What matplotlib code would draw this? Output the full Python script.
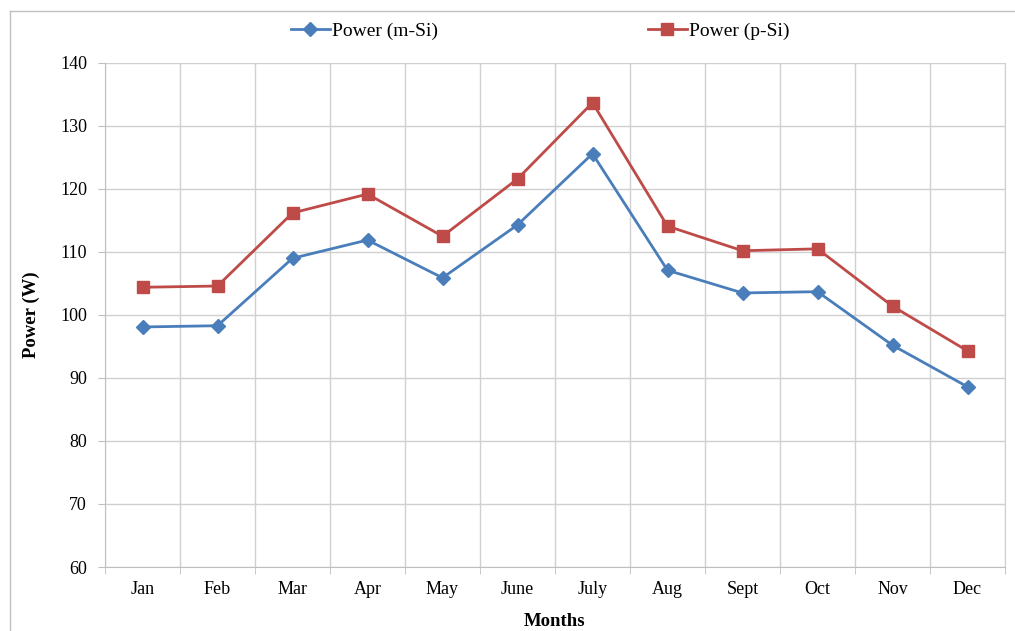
import matplotlib
matplotlib.use("Agg")
import matplotlib.pyplot as plt
from matplotlib.lines import Line2D
import numpy as np

months = ["Jan", "Feb", "Mar", "Apr", "May", "June", "July", "Aug", "Sept", "Oct", "Nov", "Dec"]
power_msi = [98.1, 98.3, 109.0, 111.9, 105.9, 114.3, 125.6, 107.1, 103.5, 103.7, 95.2, 88.6]
power_psi = [104.4, 104.6, 116.2, 119.2, 112.5, 121.6, 133.7, 114.1, 110.2, 110.5, 101.4, 94.3]

plt.rcParams['font.family'] = ['Liberation Serif', 'DejaVu Serif']

W, H = 1015, 631
fig = plt.figure(figsize=(W/100, H/100), dpi=100)
ax = fig.add_axes([105/W, (H-567)/H, 900/W, 504/H])

x = np.arange(len(months))
blue = '#4A7EBB'
red = '#BE4B48'
l1, = ax.plot(x, power_msi, color=blue, lw=2.0, marker='D', ms=7, label='Power (m-Si)')
l2, = ax.plot(x, power_psi, color=red, lw=2.0, marker='s', ms=9, label='Power (p-Si)')

ax.set_xlim(-0.5, len(months)-0.5)
ax.set_ylim(60, 140)
ax.set_yticks(np.arange(60, 141, 10))
ax.set_xticks(x)
ax.set_xticklabels(months)
ax.set_xticks(np.arange(-0.5, len(months), 1.0), minor=True)
grid_c = '#D0D0D0'
ax.grid(True, axis='y', which='major', color=grid_c, lw=1.0)
ax.grid(True, axis='x', which='minor', color=grid_c, lw=1.0)
ax.set_axisbelow(True)
ax.tick_params(axis='x', which='major', length=0, pad=10, labelsize=13)
ax.tick_params(axis='x', which='minor', length=5, color='#BFBFBF')
ax.tick_params(axis='y', length=5, color='#BFBFBF', labelsize=13, pad=8)
for s in ax.spines.values():
    s.set_color('#BFBFBF')
ax.spines['top'].set_visible(False)
ax.spines['right'].set_color(grid_c)

ax.set_ylabel('Power (W)', fontsize=13.5, fontweight='bold', labelpad=14)
ax.set_xlabel('Months', fontsize=13.5, fontweight='bold', labelpad=11)

fig.legend(handles=[l1, l2], labels=['Power (m-Si)', 'Power (p-Si)'], loc='center',
           bbox_to_anchor=(540/W, 1-31/H), ncol=2, frameon=False, fontsize=14,
           columnspacing=10.8, handlelength=2.0, handletextpad=0.1)

# figure border
fig.add_artist(Line2D([10/W, 10/W], [0, 1-11/H], transform=fig.transFigure, color='#BFBFBF', lw=1))
fig.add_artist(Line2D([10/W, 1], [1-11/H, 1-11/H], transform=fig.transFigure, color='#BFBFBF', lw=1))

fig.savefig('out.png', dpi=100)
